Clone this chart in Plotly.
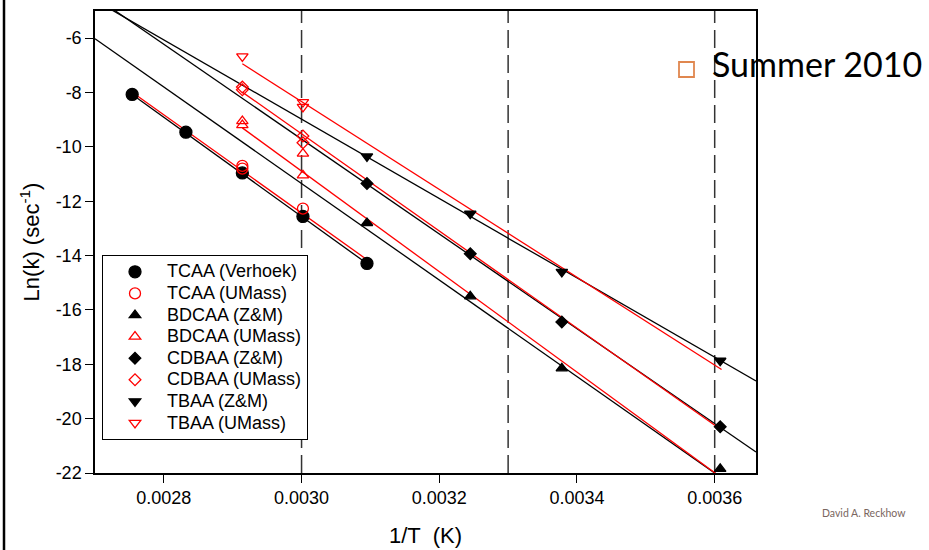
import numpy as np
import plotly.graph_objects as go

# Reciprocal temperatures (1/K) used in the rate studies
t_inv = {
    "90C": 0.002754, "80C": 0.002832, "70C": 0.002914, "60C": 0.003002,
    "50C": 0.003095, "35C": 0.003245, "23C": 0.003378, "4C": 0.003608,
}

# Measured ln(k) values, sec^-1
tcaa_verhoek_x = [t_inv["90C"], t_inv["80C"], t_inv["70C"], t_inv["60C"], t_inv["50C"]]
tcaa_verhoek_y = [-8.07, -9.46, -10.96, -12.56, -14.29]

tcaa_umass_x = [t_inv["70C"], t_inv["70C"], t_inv["60C"]]
tcaa_umass_y = [-10.70, -10.80, -12.27]

bdcaa_zm_x = [t_inv["50C"], t_inv["35C"], t_inv["23C"], t_inv["4C"]]
bdcaa_zm_y = [-12.80, -15.50, -18.15, -21.85]

bdcaa_umass_x = [t_inv["70C"], t_inv["70C"], t_inv["60C"], t_inv["60C"]]
bdcaa_umass_y = [-9.05, -9.20, -10.25, -11.05]

cdbaa_zm_x = [t_inv["50C"], t_inv["35C"], t_inv["23C"], t_inv["4C"]]
cdbaa_zm_y = [-11.35, -13.93, -16.44, -20.30]

cdbaa_umass_x = [t_inv["70C"], t_inv["70C"], t_inv["60C"], t_inv["60C"]]
cdbaa_umass_y = [-7.80, -7.90, -9.60, -9.85]

tbaa_zm_x = [t_inv["50C"], t_inv["35C"], t_inv["23C"], t_inv["4C"]]
tbaa_zm_y = [-10.35, -12.46, -14.60, -17.87]

tbaa_umass_x = [t_inv["70C"], t_inv["60C"], t_inv["60C"]]
tbaa_umass_y = [-6.67, -8.35, -8.53]

# Arrhenius fits: ln(k) = lnA - (Ea/R) * (1/T), drawn over [x_from, x_to]
fit_names = ["TCAA lit", "TCAA UMass", "BDCAA Z&M", "BDCAA UMass",
             "CDBAA Z&M", "CDBAA UMass", "TBAA Z&M", "TBAA UMass"]
fit_lnA = [42.16, 41.78, 41.92, 44.60, 42.63, 44.08, 34.79, 40.16]
fit_EaR = [18240, 18071, 17756, 18497, 17448, 17867, 14591, 16164]
fit_x_from = [0.002754, 0.002754, 0.0027, 0.002914, 0.0027, 0.002914, 0.0027, 0.002914]
fit_x_to = [0.003095, 0.003094, 0.00366, 0.00361, 0.00366, 0.00361, 0.00366, 0.00361]
fit_is_umass = [False, True, False, True, False, True, False, True]

# Reference temperatures marked with dashed lines
ref_lines_x = [0.0030, 0.0033, 0.0036]

x_tick_vals = [0.0028, 0.0030, 0.0032, 0.0034, 0.0036]
x_tick_text = ["0.0028", "0.0030", "0.0032", "0.0034", "0.0036"]
y_tick_vals = [-22, -20, -18, -16, -14, -12, -10, -8, -6]
y_tick_text = ["-22", "-20", "-18", "-16", "-14", "-12", "-10", "-8", "-6"]

# ---- page geometry ----
W, H = 929, 550
ML, MR, MT, MB = 95, 173, 11, 77
PW, PH = W - ML - MR, H - MT - MB


def px_x(px):
    return (px - ML) / PW


def px_y(py):
    return (H - MB - py) / PH


FONT = "Liberation Sans, Arial, sans-serif"
RED = "#ff0000"

fig = go.Figure()

for i in range(len(fit_names)):
    xs = np.array([fit_x_from[i], fit_x_to[i]])
    ys = fit_lnA[i] - fit_EaR[i] * xs
    fig.add_trace(go.Scatter(
        x=xs, y=ys, mode="lines", showlegend=False, hoverinfo="skip",
        line=dict(color=RED if fit_is_umass[i] else "black", width=1.3),
    ))

series = [
    ("TCAA (Verhoek)", tcaa_verhoek_x, tcaa_verhoek_y, "circle", "black", 12),
    ("TCAA (UMass)", tcaa_umass_x, tcaa_umass_y, "circle-open", RED, 11),
    ("BDCAA (Z&M)", bdcaa_zm_x, bdcaa_zm_y, "triangle-up", "black", 10),
    ("BDCAA (UMass)", bdcaa_umass_x, bdcaa_umass_y, "triangle-up-open", RED, 10),
    ("CDBAA (Z&M)", cdbaa_zm_x, cdbaa_zm_y, "diamond", "black", 9),
    ("CDBAA (UMass)", cdbaa_umass_x, cdbaa_umass_y, "diamond-open", RED, 9),
    ("TBAA (Z&M)", tbaa_zm_x, tbaa_zm_y, "triangle-down", "black", 10),
    ("TBAA (UMass)", tbaa_umass_x, tbaa_umass_y, "triangle-down-open", RED, 10),
]

for name, xs, ys, sym, col, size in series:
    fig.add_trace(go.Scatter(
        x=xs, y=ys, mode="markers", cliponaxis=False,
        name='<span style="font-size:18px">' + name + "</span>",
        marker=dict(symbol=sym, size=size, color=col, line=dict(color=col, width=1.3)),
    ))

shapes = []
for xv in ref_lines_x:
    shapes.append(dict(
        type="line", xref="x", yref="paper", x0=xv, x1=xv, y0=0, y1=1,
        line=dict(color="#333333", width=1.5, dash="18px,7px"), layer="below",
    ))

# slide border on the left edge
shapes.append(dict(
    type="line", xref="paper", yref="paper",
    x0=px_x(4), x1=px_x(4), y0=px_y(0), y1=px_y(H),
    line=dict(color="black", width=2.5),
))
# bullet square before the season label
shapes.append(dict(
    type="rect", xref="paper", yref="paper",
    x0=px_x(679), x1=px_x(694), y0=px_y(77), y1=px_y(62),
    line=dict(color="#e0874f", width=1.8), fillcolor="rgba(0,0,0,0)",
))

annotations = [
    dict(text="Summer 2010", xref="paper", yref="paper",
         x=px_x(710), y=px_y(64), xanchor="left", yanchor="middle",
         showarrow=False, font=dict(family="Lato, sans-serif", size=34, color="black")),
    dict(text="David A. Reckhow", xref="paper", yref="paper",
         x=px_x(864), y=px_y(513), xanchor="center", yanchor="middle",
         showarrow=False, font=dict(family="Lato, sans-serif", size=10.5, color="#7a6660")),
]

axis_common = dict(
    showline=True, linecolor="black", linewidth=1.5, mirror=True,
    ticks="outside", ticklen=8, tickwidth=1.3, tickcolor="black",
    showgrid=False, zeroline=False,
    tickfont=dict(family=FONT, size=18, color="black"),
)

fig.update_layout(
    width=W, height=H,
    margin=dict(l=ML, r=MR, t=MT, b=MB, autoexpand=False),
    paper_bgcolor="white", plot_bgcolor="white",
    font=dict(family=FONT, color="black"),
    xaxis=dict(
        range=[0.0027, 0.00366], tickvals=x_tick_vals, ticktext=x_tick_text,
        title=dict(text="1/T  (K)", font=dict(family=FONT, size=22), standoff=20),
        **axis_common,
    ),
    yaxis=dict(
        range=[-22, -5], tickvals=y_tick_vals, ticktext=y_tick_text,
        title=dict(text="Ln(k) (sec<sup>-1</sup>)", font=dict(family=FONT, size=22), standoff=10),
        **axis_common,
    ),
    legend=dict(
        x=px_x(102), y=px_y(255), xanchor="left", yanchor="top",
        bgcolor="white", bordercolor="black", borderwidth=1,
        font=dict(family=FONT, size=14.3, color="black"),
        itemwidth=54, tracegroupgap=0,
    ),
    shapes=shapes,
    annotations=annotations,
)

fig.write_html("out.html")
